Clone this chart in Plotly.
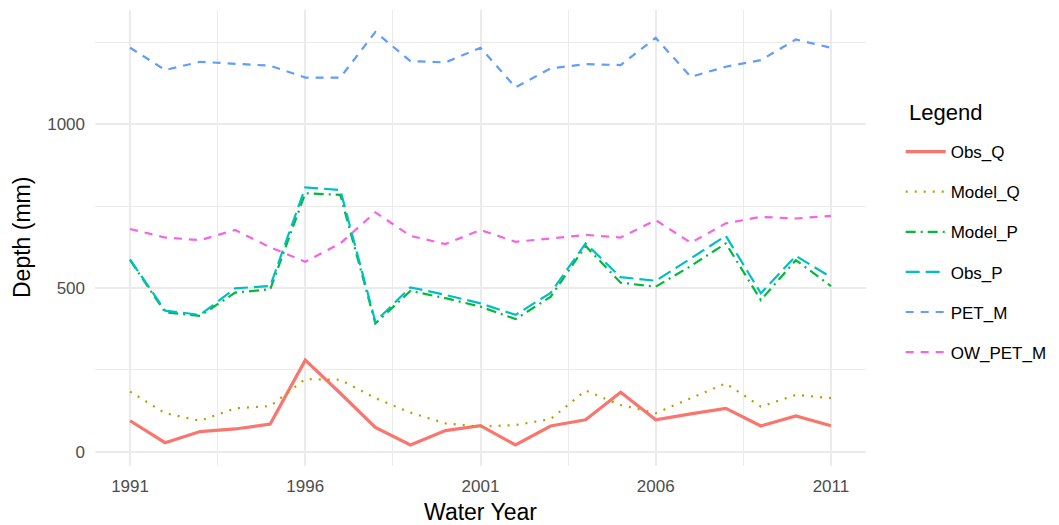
import plotly.graph_objects as go

# Water years
years = list(range(1991, 2012))

# Annual depths (mm)
obs_q = [95, 28, 62, 70, 85, 280, 179, 75, 21, 65, 80, 21, 79, 98, 182, 98, 116, 133, 79, 110, 80]
model_q = [184, 118, 95, 133, 140, 222, 220, 164, 120, 87, 77, 82, 100, 187, 143, 118, 164, 209, 138, 174, 164]
model_p = [585, 426, 415, 486, 496, 789, 784, 392, 491, 469, 443, 405, 473, 628, 516, 504, 567, 636, 463, 585, 506]
obs_p = [587, 431, 418, 499, 506, 807, 799, 397, 502, 479, 453, 418, 485, 636, 533, 522, 590, 659, 484, 598, 533]
pet_m = [1233, 1165, 1190, 1185, 1178, 1142, 1142, 1281, 1192, 1188, 1233, 1112, 1170, 1183, 1180, 1263, 1144, 1175, 1195, 1258, 1233]
ow_pet_m = [680, 654, 646, 677, 624, 580, 636, 731, 659, 634, 677, 641, 651, 662, 654, 707, 638, 697, 717, 712, 720]

series = [
    ("Obs_Q", obs_q, "#F8766D", "solid", 3.2),
    ("Model_Q", model_q, "#B79F00", "2px,7px", 2.2),
    ("Model_P", model_p, "#00BA38", "10px,5px,2px,5px", 2.2),
    ("Obs_P", obs_p, "#00BFC4", "14px,6px", 2.2),
    ("PET_M", pet_m, "#619CFF", "8px,7px", 2.2),
    ("OW_PET_M", ow_pet_m, "#F564E3", "8px,7px", 2.2),
]

fig = go.Figure()
for name, vals, color, dash, width in series:
    fig.add_trace(go.Scatter(
        x=years, y=vals, mode="lines", name=name, legendgroup=name,
        line=dict(color=color, dash=dash, width=width),
    ))

family = "Liberation Sans, Arial, sans-serif"
grid = "#EBEBEB"
tick_font = dict(family=family, size=17, color="#4D4D4D")
title_font = dict(family=family, size=23, color="#000000")

# Panel geometry in pixels, used to place the free-standing titles
left, right, top, bottom = 95, 193, 10, 59
pw, ph = 1059 - left - right, 525 - top - bottom

fig.update_layout(
    width=1059, height=525,
    margin=dict(l=left, r=right, t=top, b=bottom, autoexpand=False),
    paper_bgcolor="white", plot_bgcolor="white",
    font=dict(family=family),
    legend=dict(
        font=dict(size=17, color="#000000"),
        x=1.045, xanchor="left", y=0.728, yanchor="top",
        tracegroupgap=15, itemwidth=40,
    ),
    xaxis=dict(
        range=[1990, 2012], tick0=1991, dtick=5, showgrid=True,
        gridcolor=grid, gridwidth=1.6, zeroline=False, showline=False,
        ticks="", tickfont=tick_font, ticklabelstandoff=8, automargin=False,
        minor=dict(tick0=1991, dtick=2.5, showgrid=True, gridcolor=grid, gridwidth=0.8),
        title=dict(text="Water Year", font=title_font, standoff=11),
    ),
    yaxis=dict(
        range=[-43, 1348], tick0=0, dtick=500, showgrid=True,
        gridcolor=grid, gridwidth=1.6, zeroline=False, showline=False,
        ticks="", tickfont=tick_font, ticklabelstandoff=9, automargin=False,
        minor=dict(tick0=0, dtick=250, showgrid=True, gridcolor=grid, gridwidth=0.8),
    ),
    annotations=[
        dict(
            text="Legend", xref="paper", yref="paper",
            x=(907 - left) / pw, y=1 - (113 - top) / ph,
            xanchor="left", yanchor="middle", showarrow=False,
            font=dict(family=family, size=22, color="#000000"),
        ),
        dict(
            text="Depth (mm)", xref="paper", yref="paper",
            x=(22 - left) / pw, y=1 - (238 - top) / ph,
            xanchor="center", yanchor="middle", textangle=-90, showarrow=False,
            font=title_font,
        ),
    ],
)

fig.write_html("out.html")
